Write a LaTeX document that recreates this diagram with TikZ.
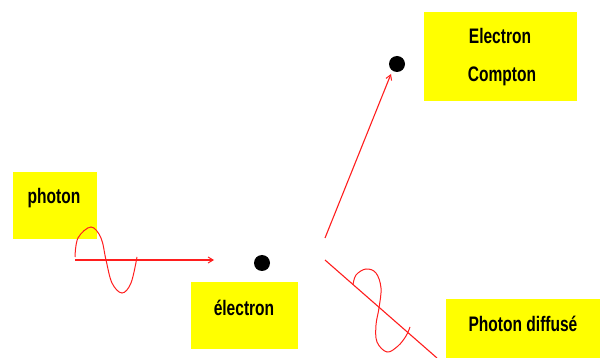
\documentclass[tikz,border=0pt]{standalone}
\usepackage{fontspec}
\setmainfont[FakeStretch=0.74]{Liberation Sans}
\usetikzlibrary{arrows.meta}
\definecolor{boxyellow}{RGB}{255,255,0}
\definecolor{wavered}{RGB}{255,30,30}
\tikzset{
  ybox/.style={fill=boxyellow, draw=none},
  lbl/.style={font=\fontsize{21}{24}\selectfont\bfseries, text=black, inner sep=0pt, anchor=base},
  ray/.style={draw=wavered, line width=1.1pt},
  rayarrow/.style={ray, -{Straight Barb[length=5pt,width=6pt,line width=1pt]}},
  wave/.style={draw=wavered, line width=1pt},
  particle/.style={circle, fill=black, minimum size=16pt, inner sep=0pt}
}
\begin{document}
\begin{tikzpicture}[x=1pt,y=-1pt]
\useasboundingbox (0,0) rectangle (603,358);
% yellow boxes
\fill[ybox] (13,172) rectangle (97,239);
\fill[ybox] (191,282) rectangle (298,349);
\fill[ybox] (424,12) rectangle (577,101);
\fill[ybox] (446,299) rectangle (600,358);
% labels
\node[lbl] (tphoton) at (54,204) {photon};
\node[lbl] (telectron) at (244,316) {électron};
\node[lbl] (tcompA) at (500,44) {Electron};
\node[lbl] (tcompB) at (502,82) {Compton};
\node[lbl] (tdiff) at (523,332) {Photon diffusé};
% particles
\node[particle] (e1) at (262,263) {};
\node[particle] (e2) at (397,64) {};
% coordinates
\coordinate (inA) at (75,260);
\coordinate (inB) at (214,260);
\coordinate (cA) at (325,238);
\coordinate (cB) at (391,74);
\coordinate (sA) at (325,260);
\coordinate (sB) at (437,358);
% rays
\draw[rayarrow] (inA) -- (inB);
\draw[rayarrow] (cA) -- (cB);
\draw[ray] (sA) -- (sB);
% waves
\draw[wave] plot[smooth, tension=0.6] coordinates {(75,257) (78,238) (91,227) (101,238) (106,260) (112,283) (122,293) (131,283) (137,257)};
\draw[wave] plot[smooth, tension=0.6] coordinates {(353,285) (356,275) (366,269) (376,273) (381,288) (379,308) (376,325) (377,342) (387,352) (398,346) (406,336) (410,327)};
\end{tikzpicture}
\end{document}
